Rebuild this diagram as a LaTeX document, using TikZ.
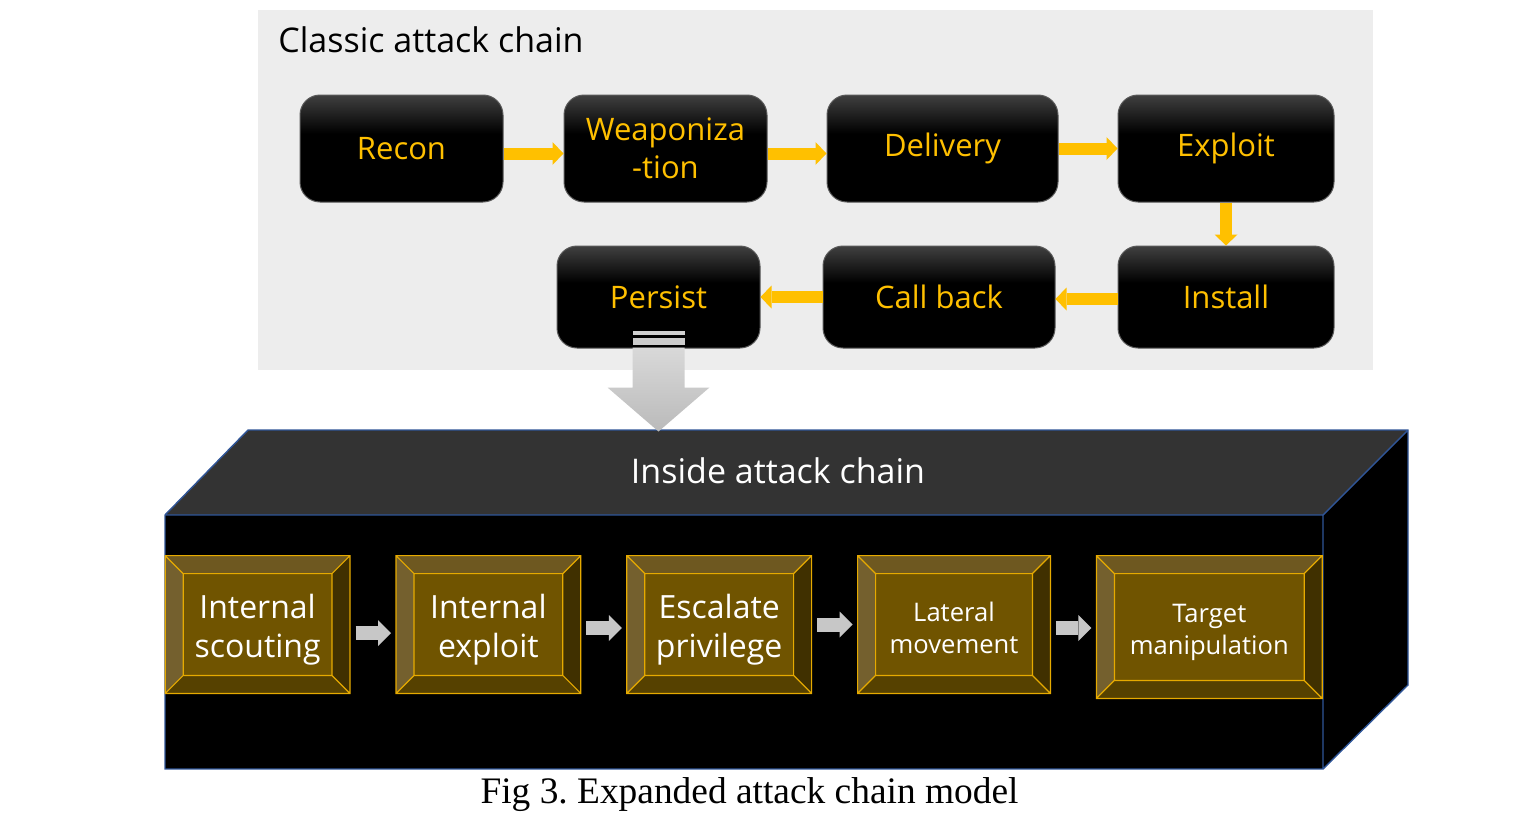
\documentclass[tikz,border=0pt]{standalone}
\usepackage{fontspec}
\setmainfont{Open Sans}
\newfontfamily\capfont{Liberation Serif}
\usepackage{xcolor}
\usetikzlibrary{positioning,arrows.meta}

\definecolor{panelgray}{RGB}{237,237,237}
\definecolor{chainyellow}{RGB}{255,192,0}
\definecolor{topface}{RGB}{51,51,51}
\definecolor{edgeblue}{RGB}{47,85,151}
\definecolor{bvgold}{RGB}{230,170,0}
\definecolor{bvmid}{RGB}{112,84,0}
\definecolor{bvtop}{RGB}{110,88,32}
\definecolor{bvleft}{RGB}{116,96,46}
\definecolor{bvbot}{RGB}{86,65,0}
\definecolor{bvright}{RGB}{64,48,0}

\pgfdeclareverticalshading{stepshade}{100bp}{color(0bp)=(black); color(57bp)=(black); color(75bp)=(black!75!white); color(100bp)=(black!75!white)}

% slanted sides of a bevelled box
\newcommand{\bevel}[1]{%
  \fill[bvtop] (#1.north west) -- (#1.north east) -- ([shift={(-9pt,-9pt)}]#1.north east) -- ([shift={(9pt,-9pt)}]#1.north west) -- cycle;
  \fill[bvbot] (#1.south west) -- (#1.south east) -- ([shift={(-9pt,9pt)}]#1.south east) -- ([shift={(9pt,9pt)}]#1.south west) -- cycle;
  \fill[bvleft] (#1.north west) -- (#1.south west) -- ([shift={(9pt,9pt)}]#1.south west) -- ([shift={(9pt,-9pt)}]#1.north west) -- cycle;
  \fill[bvright] (#1.north east) -- (#1.south east) -- ([shift={(-9pt,9pt)}]#1.south east) -- ([shift={(-9pt,-9pt)}]#1.north east) -- cycle;
  \draw[bvgold, line width=0.6pt] (#1.north west) rectangle (#1.south east)
    ([shift={(9pt,-9pt)}]#1.north west) rectangle ([shift={(-9pt,9pt)}]#1.south east)
    (#1.north west) -- ++(9pt,-9pt) (#1.north east) -- ++(-9pt,-9pt)
    (#1.south west) -- ++(9pt,9pt) (#1.south east) -- ++(-9pt,9pt);
}

\begin{document}
\begin{tikzpicture}[x=0.5pt, y=-0.5pt, node distance=30pt,
    stepbox/.style={rectangle, rounded corners=10pt, shade, shading=stepshade, draw=black!65, line width=0.5pt,
      text=chainyellow, align=center, inner sep=0pt, minimum height=53.5pt, font=\fontsize{15.5}{19}\selectfont},
    flow/.style={line width=6pt, chainyellow, -{Triangle[length=5.5pt, width=11.5pt, line width=0pt]}},
    bevelbox/.style={rectangle, fill=bvmid, inner sep=0pt, minimum width=92pt, minimum height=68.5pt},
    bevtext/.style={text=white, align=center, inner sep=0pt, yshift=-2.5pt, font=\fontsize{16}{19.5}\selectfont},
    hop/.style={line width=7pt, black!22, -{Triangle[length=6.5pt, width=13pt, line width=0pt]}},
    ]
\useasboundingbox (0,0) rectangle (1522,830);

% classic chain
\fill[panelgray] (258,10) rectangle (1373,370);
\node[anchor=base west, inner sep=0pt, font=\fontsize{17}{20}\selectfont] (classictitle) at (278,52) {Classic attack chain};

\node[stepbox, minimum width=101.5pt] (recon) at (401.5,148.5) {Recon};
\node[stepbox, minimum width=101.5pt, right=of recon] (weapon) {Weaponiza\\-tion};
\node[stepbox, minimum width=115.5pt, right=29.5pt of weapon] (delivery) {Delivery};
\node[stepbox, minimum width=108pt, right=29.5pt of delivery] (exploit) {Exploit};
\node[stepbox, minimum width=108pt, minimum height=51pt, below=21.5pt of exploit] (install) {Install};
\node[stepbox, minimum width=116pt, minimum height=51pt, left=31pt of install] (callback) {Call back};
\node[stepbox, minimum width=101.5pt, minimum height=51pt, left=31pt of callback] (persist) {Persist};

\draw[flow] ([yshift=-2.5pt]recon.east) -- ([yshift=-2.5pt]weapon.west);
\draw[flow] ([yshift=-2.5pt]weapon.east) -- ([yshift=-2.5pt]delivery.west);
\draw[flow] (delivery.east) -- (exploit.west);
\draw[flow] (exploit.south) -- (install.north);
\draw[flow] ([yshift=-1pt]install.west) -- ([yshift=-1pt]callback.east);
\draw[flow] (callback.west) -- (persist.east);

% inside chain box
\fill[topface] (165,515) -- (248,430) -- (1408,430) -- (1323,515) -- cycle;
\fill[black] (1323,515) -- (1408,430) -- (1408,685) -- (1323,769) -- cycle;
\fill[black] (165,515) rectangle (1323,769);
\draw[edgeblue, line width=0.7pt] (165,515) -- (248,430) -- (1408,430) -- (1408,685) -- (1323,769) -- (165,769) -- cycle
  (165,515) -- (1323,515) -- (1408,430) (1323,515) -- (1323,769);
\node[text=white, font=\fontsize{17}{20}\selectfont] (insidetitle) at (778,471) {Inside attack chain};

% drop arrow
\begin{scope}[shift={(persist.south)}]
  \shade[top color=black!15, bottom color=black!27] (-26,-1) -- (26,-1) -- (26,39) -- (51,39) -- (0,83) -- (-51,39) -- (-26,39) -- cycle;
  \fill[black!18] (-26,-18) rectangle (26,-14);
  \fill[black!20] (-26,-11) rectangle (26,-4);
\end{scope}

\node[bevelbox, label={[bevtext]center:Internal\\scouting}] (scout) at (257.6,624.5) {};
\node[bevelbox, right=23pt of scout, label={[bevtext]center:Internal\\exploit}] (intexp) {};
\node[bevelbox, right=23pt of intexp, label={[bevtext]center:Escalate\\privilege}] (escalate) {};
\node[bevelbox, minimum width=96pt, right=23pt of escalate,
  label={[bevtext, yshift=1pt, font=\fontsize{12.8}{16}\selectfont]center:Lateral\\movement}] (lateral) {};
\node[bevelbox, minimum width=112.5pt, minimum height=71pt, right=23pt of lateral.north east, anchor=north west,
  label={[bevtext, font=\fontsize{12.8}{16}\selectfont]center:Target\\manipulation}] (target) {};
\foreach \b in {scout,intexp,escalate,lateral,target} \bevel{\b};

\draw[hop] ([shift={(2.75pt,-4.25pt)}]scout.east) -- ([shift={(-2.5pt,-4.25pt)}]intexp.west);
\draw[hop] ([shift={(2.75pt,-1.75pt)}]intexp.east) -- ([shift={(-2.5pt,-1.75pt)}]escalate.west);
\draw[hop] ([shift={(2.75pt,0pt)}]escalate.east) -- ([shift={(-2.5pt,0pt)}]lateral.west);
\draw[hop] ([shift={(2.75pt,-1.75pt)}]lateral.east) -- ([shift={(-2.5pt,-1.75pt)}]lateral.east -| target.west);

\node[anchor=base, font=\capfont\fontsize{18.7}{23}\selectfont] (caption) at (749.5,803) {Fig 3.\ Expanded attack chain model};
\end{tikzpicture}
\end{document}
